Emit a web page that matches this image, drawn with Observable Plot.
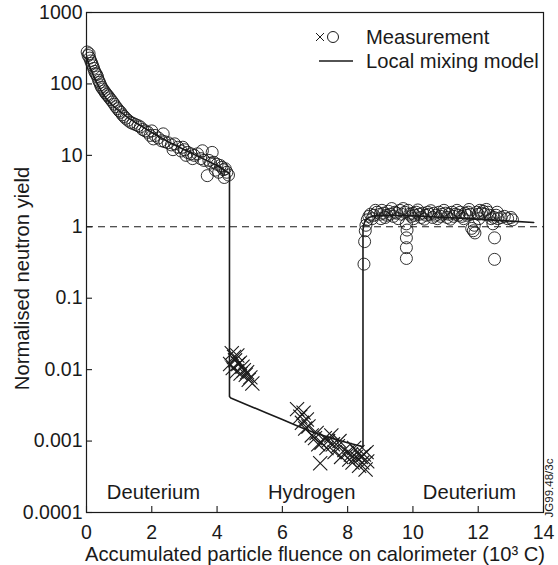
<!DOCTYPE html>
<html><head><meta charset="utf-8">
<script src="https://cdn.jsdelivr.net/npm/d3@7"></script>
<script src="https://cdn.jsdelivr.net/npm/@observablehq/plot@0.6"></script>
<style>
body{margin:0;background:#fff;}
#chart{position:relative;width:558px;height:565px;font-family:"Liberation Sans",Arial,sans-serif;color:#1a1a1a;}
#legend{position:absolute;left:0;top:0;pointer-events:none;}
#jg{position:absolute;left:549px;top:488px;font-size:11.5px;transform:translate(-50%,-50%) rotate(-90deg);white-space:nowrap;}
</style></head><body><div id="chart"></div>
<script>
const ink = "#1a1a1a";
// Deuterium phase 1 (circles)
const deutEarlyX = [0.02,0.05,0.08,0.1,0.13,0.16,0.19,0.22,0.25,0.28,0.31,0.34,0.37,0.4,0.43,0.46,0.5,0.54,0.58,0.62,0.66,0.7,0.75,0.8,0.85,0.9,0.95,1.0,1.05,1.1,1.15,1.2,1.27,1.35,1.42,1.5,1.58,1.65,1.72,1.8,1.88,1.95,2.0,2.05,2.1,2.2,2.3,2.35,2.4,2.5,2.6,2.65,2.7,2.8,2.9,2.95,3.0,3.05,3.1,3.2,3.25,3.3,3.4,3.5,3.55,3.6,3.7,3.75,3.8,3.85,3.9,3.95,4.0,4.05,4.1,4.15,4.2,4.22,4.25,4.3,4.35];
const deutEarlyY = [280,250,265,230,210,195,180,165,150,140,135,125,112,105,97,90,85,80,75,71,68,64,60,56,52,48,45,42,40,37,35,33,31,29,28,27,26,25,23,22,21,19,22,17,19,17.5,16,20,15.5,15,14,12,14.5,13,11.5,13,12,10,11,10.5,9,10,10.5,9,11.6,8.5,5.2,8.5,7.8,11,8,6.2,7.5,5.8,7.2,6.8,6.3,4.9,6.5,5.8,5.3];
// Hydrogen phase (crosses)
const hydroAX = [4.4,4.45,4.48,4.52,4.55,4.6,4.62,4.65,4.7,4.72,4.78,4.82,4.88,4.92,4.97,5.02,5.08];
const hydroAY = [0.012,0.017,0.0105,0.015,0.0135,0.0095,0.0158,0.012,0.0125,0.0088,0.011,0.0098,0.0085,0.0092,0.0072,0.0078,0.0064];
const hydroBX = [6.45,6.55,6.6,6.65,6.7,6.75,6.8,6.9,7.0,7.05,7.1,7.16,7.2,7.3,7.35,7.4,7.5,7.55,7.6,7.7,7.75,7.8,7.9,8.0,8.05,8.1,8.15,8.2,8.25,8.3,8.35,8.4,8.45,8.5,8.55,8.6,8.58];
const hydroBY = [0.0028,0.0022,0.0018,0.0025,0.0015,0.002,0.0016,0.0012,0.0011,0.0013,0.0009,0.00049,0.00095,0.0011,0.0008,0.001,0.0012,0.0009,0.0007,0.00085,0.001,0.0006,0.00075,0.0007,0.00055,0.00065,0.0005,0.0008,0.0006,0.0007,0.00045,0.0006,0.0005,0.00065,0.0004,0.00052,0.0007];
// Deuterium phase 2 (circles), [x, y]
const deutLate = [[8.5,0.30],[8.52,0.62],[8.54,0.88],[8.56,1.05],[8.6,1.25],[8.65,1.4],[8.7,1.5],[8.75,1.3],[8.8,1.45],[8.85,1.7],[8.9,1.6],[9.0,1.5],[9.02,1.3],[9.05,1.7],[9.1,1.55],[9.15,1.35],[9.2,1.45],[9.25,1.65],[9.3,1.5],[9.35,1.8],[9.4,1.4],[9.45,1.6],[9.5,1.55],[9.55,1.3],[9.6,1.7],[9.65,1.5],[9.7,1.8],[9.75,1.6],[9.8,1.1],[9.8,0.7],[9.8,0.51],[9.8,0.36],[9.82,0.9],[9.85,1.7],[9.9,1.5],[9.95,1.4],[10.0,1.55],[10.02,1.3],[10.05,1.45],[10.1,1.6],[10.15,1.72],[10.2,1.5],[10.25,1.35],[10.3,1.55],[10.35,1.28],[10.4,1.45],[10.45,1.6],[10.5,1.5],[10.55,1.68],[10.6,1.35],[10.65,1.55],[10.7,1.45],[10.75,1.3],[10.8,1.6],[10.85,1.4],[10.9,1.5],[10.95,1.7],[11.0,1.55],[11.05,1.35],[11.1,1.5],[11.15,1.28],[11.2,1.6],[11.25,1.4],[11.3,1.5],[11.35,1.7],[11.4,1.45],[11.45,1.6],[11.5,1.4],[11.55,1.3],[11.6,1.55],[11.65,1.45],[11.7,1.6],[11.72,1.75],[11.75,1.5],[11.8,0.95],[11.85,0.88],[11.9,0.82],[11.88,1.05],[11.95,1.6],[12.0,1.5],[12.02,1.3],[12.05,1.7],[12.1,1.55],[12.15,1.65],[12.2,1.5],[12.25,1.75],[12.3,1.6],[12.35,1.45],[12.4,1.3],[12.45,1.1],[12.5,0.70],[12.5,0.35],[12.48,1.35],[12.55,1.45],[12.58,1.6],[12.6,1.3],[12.7,1.35],[12.8,1.4],[12.9,1.3],[13.0,1.35],[13.05,1.25]];
// Local mixing model
const modelX = [0,0.1,0.2,0.3,0.45,0.6,0.8,1.0,1.3,1.6,2.0,2.5,3.0,3.5,4.0,4.38,4.38,4.42,5,5.5,6,6.5,7,7.5,8,8.47,8.47,8.5,8.55,8.65,8.8,9,10,11,12,13,13.7];
const modelY = [240,175,135,108,80,63,50,42,33,27,21,15.5,12,9.3,7.2,5.6,0.0042,0.0040,0.0031,0.0025,0.002,0.0016,0.0013,0.0011,0.00095,0.00083,0.9,1.1,1.25,1.35,1.42,1.45,1.42,1.35,1.28,1.2,1.15];
// Axes and labels
const xTicks = [0,2,4,6,8,10,12,14];
const yTicks = [0.0001,0.001,0.01,0.1,1,10,100,1000];
const regionNames = ["Deuterium","Hydrogen","Deuterium"];
const regionX = [2.05,6.9,11.73];
const regionY = [0.00019,0.00019,0.00019];
const xLabel = "Accumulated particle fluence on calorimeter (10³ C)";
const yLabel = "Normalised neutron yield";

const circles = deutEarlyX.map((x,i)=>({x, y: deutEarlyY[i]})).concat(deutLate.map(([x,y])=>({x,y})));
const crosses = hydroAX.map((x,i)=>({x, y: hydroAY[i]})).concat(hydroBX.map((x,i)=>({x, y: hydroBY[i]})));
const model = modelX.map((x,i)=>({x, y: modelY[i]}));
const regions = regionNames.map((t,i)=>({t, x: regionX[i], y: regionY[i]}));

const fs = 19.5;
const fsL = 20.2;
const plot = Plot.plot({
  width: 558, height: 565,
  marginLeft: 86, marginRight: 15, marginTop: 12, marginBottom: 53,
  style: {fontFamily: "'Liberation Sans', Arial, sans-serif", fontSize: fs + "px", color: ink, background: "#fff", overflow: "visible"},
  x: {domain: [0, 14]},
  y: {type: "log", domain: [1e-4, 1e3]},
  marks: [
    Plot.ruleY([1], {stroke: ink, strokeWidth: 1.1, strokeDasharray: "7,5"}),
    Plot.line(model, {x: "x", y: "y", stroke: ink, strokeWidth: 1.6}),
    Plot.dot(circles, {x: "x", y: "y", r: 6, stroke: ink, strokeWidth: 0.9, fill: "none"}),
    Plot.dot(crosses, {x: "x", y: "y", symbol: "times", r: 6.5, stroke: ink, strokeWidth: 1.1}),
    Plot.text(regions, {x: "x", y: "y", text: "t", fill: ink, fontSize: fsL}),
    Plot.axisX(xTicks, {tickSize: 6, dy: -6, tickFormat: () => "", label: null, stroke: ink, strokeWidth: 1.1}),
    Plot.axisY(yTicks, {tickSize: 6, dx: 6, tickFormat: () => "", label: null, stroke: ink, strokeWidth: 1.1}),
    Plot.axisX(xTicks, {tickSize: 0, tickPadding: 13, tickFormat: d => String(d), fontSize: fs, fill: ink, label: null}),
    Plot.axisY(yTicks, {tickSize: 0, tickPadding: 4, tickFormat: d => String(d), fontSize: fs, fill: ink, label: null}),
    Plot.text([xLabel], {frameAnchor: "bottom", textAnchor: "middle", lineAnchor: "middle", dy: 42, fontSize: fsL, fill: ink}),
    Plot.text([yLabel], {frameAnchor: "left", textAnchor: "middle", lineAnchor: "middle", rotate: -90, dx: -64, dy: 16, fontSize: fsL, fill: ink}),
    Plot.frame({stroke: ink, strokeWidth: 1.2})
  ]
});
const chart = document.getElementById("chart");
chart.appendChild(plot);

// Legend overlay
const ns = "http://www.w3.org/2000/svg";
const lg = document.createElementNS(ns, "svg");
lg.setAttribute("id","legend"); lg.setAttribute("width","558"); lg.setAttribute("height","80");
lg.innerHTML = `
<g stroke="${ink}" fill="none" stroke-width="1">
 <path d="M316,33L324,41M324,33L316,41"/>
 <circle cx="333" cy="37" r="5.5"/>
 <path d="M319,61H353" stroke-width="1.6"/>
</g>
<g fill="${ink}" font-family="'Liberation Sans', Arial, sans-serif" font-size="${fsL}px">
 <text x="366" y="44">Measurement</text>
 <text x="366" y="68">Local mixing model</text>
</g>`;
chart.appendChild(lg);
const jg = document.createElement("div");
jg.id = "jg"; jg.textContent = "JG99.48/3c";
chart.appendChild(jg);
</script></body></html>
